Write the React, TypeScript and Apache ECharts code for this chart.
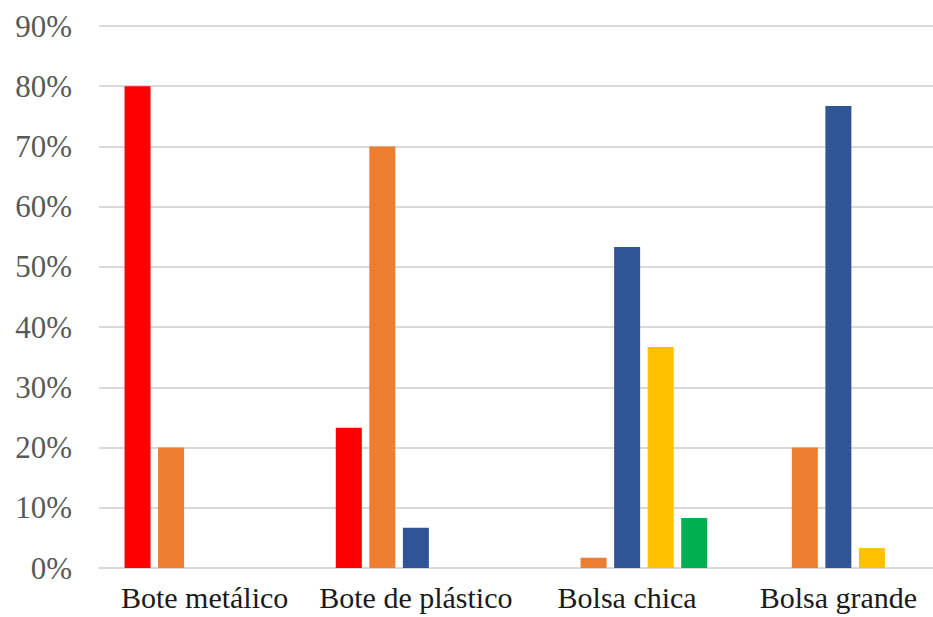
import React, { useEffect, useRef } from "react";
import * as echarts from "echarts";

const categories = ["Bote metálico", "Bote de plástico", "Bolsa chica", "Bolsa grande"];
const seriesRed = [80, 23.3, 0, 0];
const seriesOrange = [20, 70, 1.7, 20];
const seriesBlue = [0, 6.7, 53.3, 76.7];
const seriesYellow = [0, 0, 36.7, 3.3];
const seriesGreen = [0, 0, 8.3, 0];
const seriesNames = ["Serie 1", "Serie 2", "Serie 3", "Serie 4", "Serie 5"];
const seriesColors = ["#FF0000", "#ED7D31", "#2F5597", "#FFC000", "#00B050"];

const serif = "Liberation Serif";

export default function App() {
  const ref = useRef<HTMLDivElement>(null);
  useEffect(() => {
    if (!ref.current) return;
    const chart = echarts.init(ref.current, undefined, { renderer: "svg" });
    const data = [seriesRed, seriesOrange, seriesBlue, seriesYellow, seriesGreen];
    chart.setOption({
      animation: false,
      backgroundColor: "#ffffff",
      textStyle: { fontFamily: serif },
      grid: {
        left: 99,
        right: -11,
        top: 26,
        bottom: 49,
        containLabel: false,
        outerBoundsMode: "none",
      },
      xAxis: {
        type: "category",
        data: categories,
        axisLine: { show: true, lineStyle: { color: "#D9D9D9", width: 2 } },
        axisTick: { show: false },
        axisLabel: {
          color: "#1a1a1a",
          fontFamily: serif,
          fontSize: 30,
          margin: 14,
          interval: 0,
        },
      },
      yAxis: {
        type: "value",
        min: 0,
        max: 90,
        interval: 10,
        axisLine: { show: false },
        axisTick: { show: false },
        splitLine: { show: true, lineStyle: { color: "#D9D9D9", width: 2 } },
        axisLabel: {
          color: "#595959",
          fontFamily: serif,
          fontSize: 31,
          margin: 27,
          formatter: (v: number) => `${v}%`,
        },
      },
      series: data.map((d, i) => ({
        name: seriesNames[i],
        type: "bar",
        data: d,
        barWidth: 26,
        barGap: "29%",
        itemStyle: { color: seriesColors[i] },
      })),
    });
    return () => chart.dispose();
  }, []);
  return (
    <div
      ref={ref}
      style={{ position: "fixed", left: 0, top: 0, width: 933, height: 617 }}
    />
  );
}
